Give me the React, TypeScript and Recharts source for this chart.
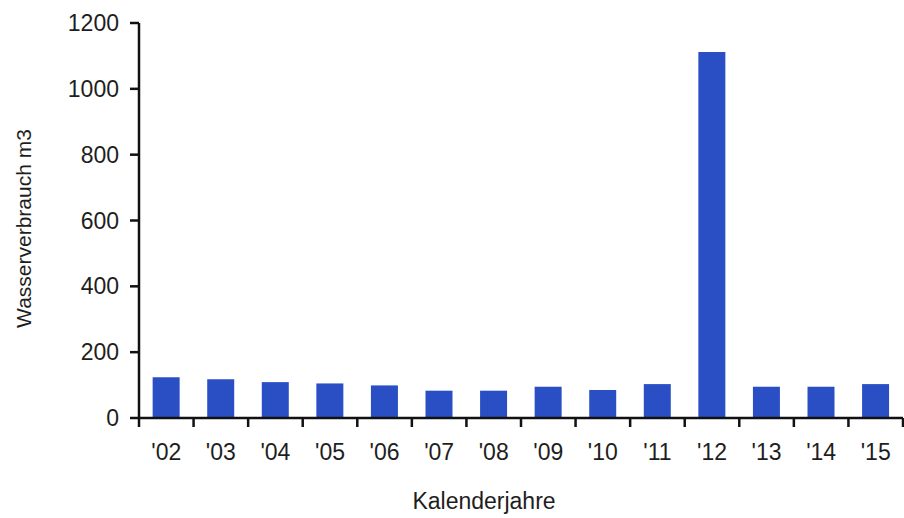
import React from "react";
import { BarChart, Bar, XAxis, YAxis } from "recharts";

const years = ["'02", "'03", "'04", "'05", "'06", "'07", "'08", "'09", "'10", "'11", "'12", "'13", "'14", "'15"];
const consumption = [124, 118, 109, 105, 99, 83, 83, 95, 85, 103, 1112, 95, 95, 103];
const yTicks = [0, 200, 400, 600, 800, 1000, 1200];

const data = years.map((y, i) => ({ year: y, value: consumption[i] }));

const W = 904;
const H = 518;
const M = { top: 23, right: 1, bottom: 0, left: 0 };
const Y_W = 139;
const X_H = 100;
const FONT = "'Liberation Sans', Arial, sans-serif";
const TXT = "#1e1e1e";
const plotW = W - M.left - M.right - Y_W;
const band = plotW / years.length;
const axisY = H - M.bottom - X_H;

const XTick = (props: any) => {
  const { x, payload, index } = props;
  const half = band / 2;
  return (
    <g>
      <line x1={x - half} x2={x - half} y1={axisY} y2={axisY + 9} stroke="#111" strokeWidth={2.5} />
      {index === years.length - 1 && (
        <line x1={x + half} x2={x + half} y1={axisY} y2={axisY + 9} stroke="#111" strokeWidth={2.5} />
      )}
      <text x={x} y={axisY + 42} textAnchor="middle" fontSize={23} fontFamily={FONT} fill={TXT}>
        {payload.value}
      </text>
    </g>
  );
};

const YLabel = (props: any) => {
  const { viewBox } = props;
  const cx = viewBox.x + 31;
  const cy = viewBox.y + viewBox.height / 2 + 8;
  return (
    <text
      x={cx}
      y={cy}
      transform={`rotate(-90 ${cx} ${cy})`}
      textAnchor="middle"
      fontSize={21}
      fontFamily={FONT}
      fill={TXT}
    >
      Wasserverbrauch m3
    </text>
  );
};

const XLabel = (props: any) => {
  const { viewBox } = props;
  const cx = viewBox.x + viewBox.width / 2 - 37;
  return (
    <text x={cx} y={axisY + 91} textAnchor="middle" fontSize={23} fontFamily={FONT} fill={TXT}>
      Kalenderjahre
    </text>
  );
};

export default function App() {
  return (
    <div style={{ position: "absolute", left: 0, top: 0, width: W, height: H, background: "#fff" }}>
      <BarChart width={W} height={H} data={data} margin={M} barCategoryGap="25%">
        <XAxis
          dataKey="year"
          axisLine={{ stroke: "#111", strokeWidth: 2.5 }}
          tickLine={false}
          tick={<XTick />}
          interval={0}
          height={X_H}
          label={<XLabel />}
        />
        <YAxis
          width={Y_W}
          domain={[0, 1200]}
          ticks={yTicks}
          interval={0}
          axisLine={{ stroke: "#111", strokeWidth: 2.5 }}
          tickLine={{ stroke: "#111", strokeWidth: 2.5 }}
          tickSize={9}
          tickMargin={11}
          tick={{ fontSize: 23, fontFamily: FONT, fill: TXT }}
          label={<YLabel />}
        />
        <Bar dataKey="value" fill="#2a4fc4" isAnimationActive={false} />
      </BarChart>
    </div>
  );
}
